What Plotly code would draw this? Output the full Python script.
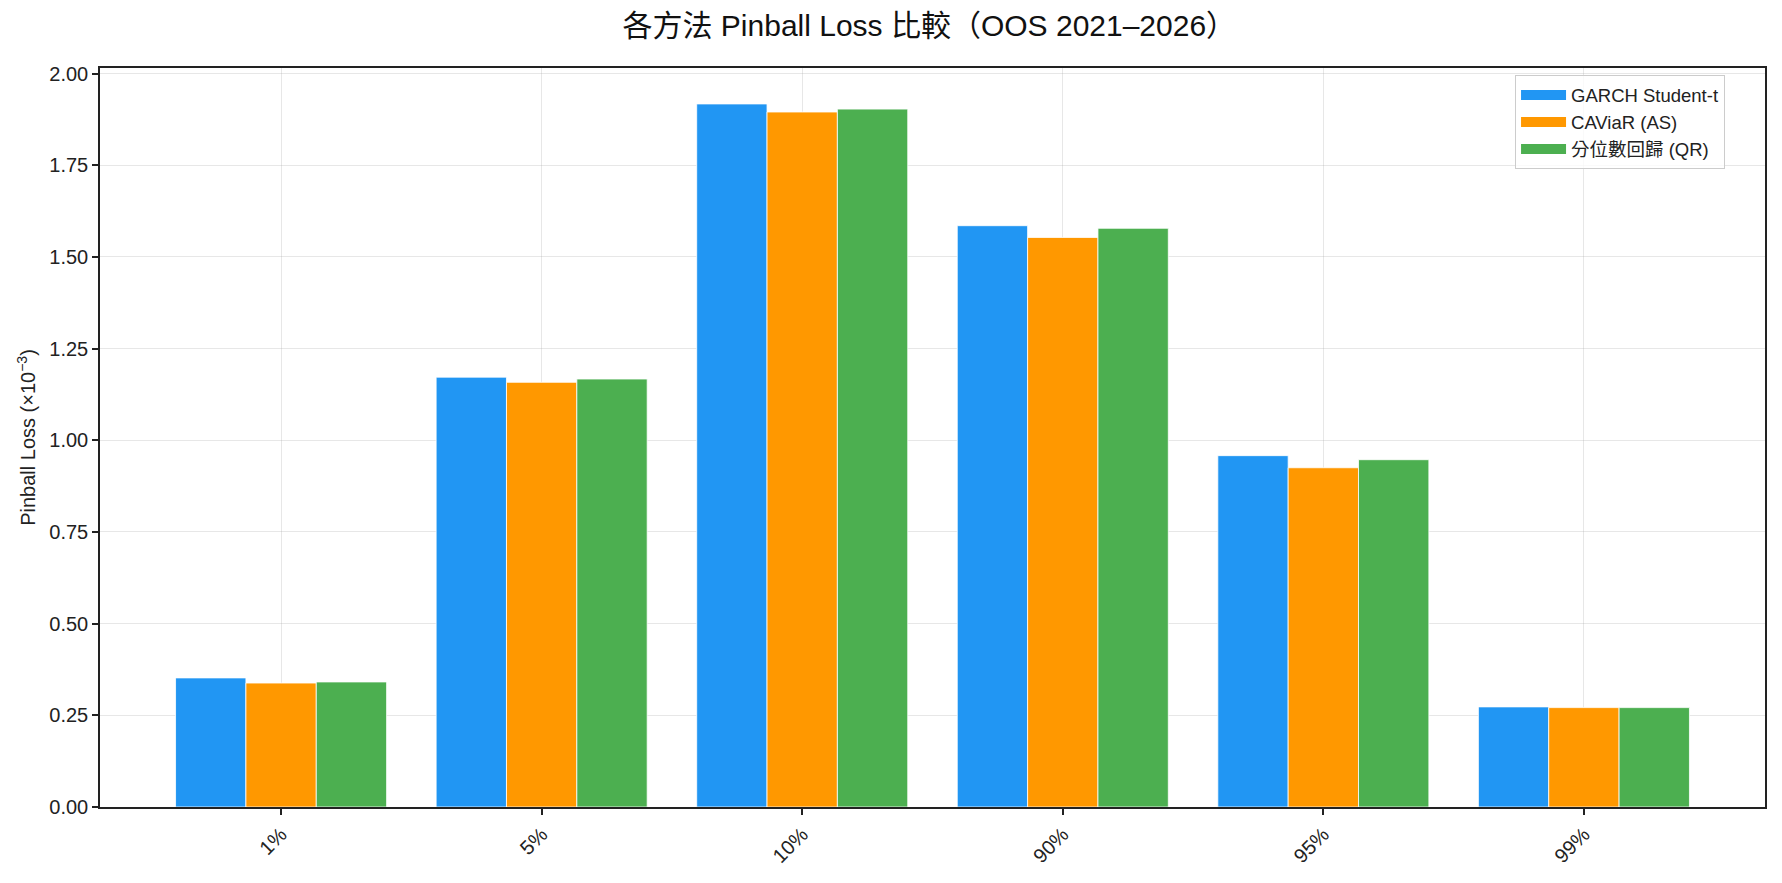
import plotly.graph_objects as go

categories = ["1%", "5%", "10%", "90%", "95%", "99%"]
garch = [0.352, 1.172, 1.917, 1.585, 0.958, 0.273]
caviar = [0.338, 1.158, 1.895, 1.553, 0.925, 0.271]
qr = [0.341, 1.167, 1.903, 1.578, 0.947, 0.271]

series_names = ["GARCH Student-t", "CAViaR (AS)", "分位數回歸 (QR)"]
colors = ["#2196F3", "#FF9800", "#4CAF50"]

FONT = "Liberation Sans, Noto Sans CJK TC, sans-serif"

fig = go.Figure()
for name, vals, col in zip(series_names, [garch, caviar, qr], colors):
    fig.add_trace(go.Bar(
        x=categories, y=vals, name=name, showlegend=False,
        marker=dict(color=col, line=dict(color="white", width=0.8)),
    ))
# legend entries drawn as wide colour patches
for i, (name, col) in enumerate(zip(series_names, colors)):
    fig.add_trace(go.Scatter(
        x=[None], y=[None], mode="lines", name=name, legendgroup=f"g{i}",
        line=dict(color=col, width=13), showlegend=True,
    ))

fig.update_layout(
    width=1782, height=883,
    barmode="group", bargap=0.19, bargroupgap=0,
    paper_bgcolor="white", plot_bgcolor="white",
    margin=dict(l=100, r=17, t=68, b=76),
    font=dict(family=FONT, size=19, color="#222"),
    title=dict(text="各方法 Pinball Loss 比較（OOS 2021–2026）",
               font=dict(family=FONT, size=30, color="#111"),
               x=0.5215, xanchor="center", y=0.971, yanchor="middle"),
    legend=dict(x=0.976, y=0.99, xanchor="right", yanchor="top",
                bgcolor="rgba(255,255,255,0.8)", bordercolor="#cccccc", borderwidth=1,
                font=dict(family=FONT, size=18.5, color="#222"),
                itemwidth=45, traceorder="grouped", tracegroupgap=0),
    showlegend=True,
)
fig.update_xaxes(
    range=[-0.695, 5.695], tickangle=-45,
    showline=True, linecolor="#222", linewidth=1.5, mirror=True,
    ticks="outside", ticklen=6, tickcolor="#222", tickwidth=1.5,
    showgrid=True, gridcolor="rgba(160,160,160,0.25)", gridwidth=1,
    layer="above traces",
    tickfont=dict(family=FONT, size=20, color="#222"),
)
fig.update_yaxes(
    range=[0, 2.015], tickvals=[0, 0.25, 0.5, 0.75, 1.0, 1.25, 1.5, 1.75, 2.0],
    tickformat=".2f",
    showline=True, linecolor="#222", linewidth=1.5, mirror=True,
    ticks="outside", ticklen=6, tickcolor="#222", tickwidth=1.5,
    showgrid=True, gridcolor="rgba(160,160,160,0.25)", gridwidth=1,
    zeroline=False, layer="above traces",
    title=dict(text="Pinball Loss (×10<sup>−3</sup>)", font=dict(family=FONT, size=20, color="#222"), standoff=8),
    tickfont=dict(family=FONT, size=20, color="#222"),
)

fig.write_html("out.html")
